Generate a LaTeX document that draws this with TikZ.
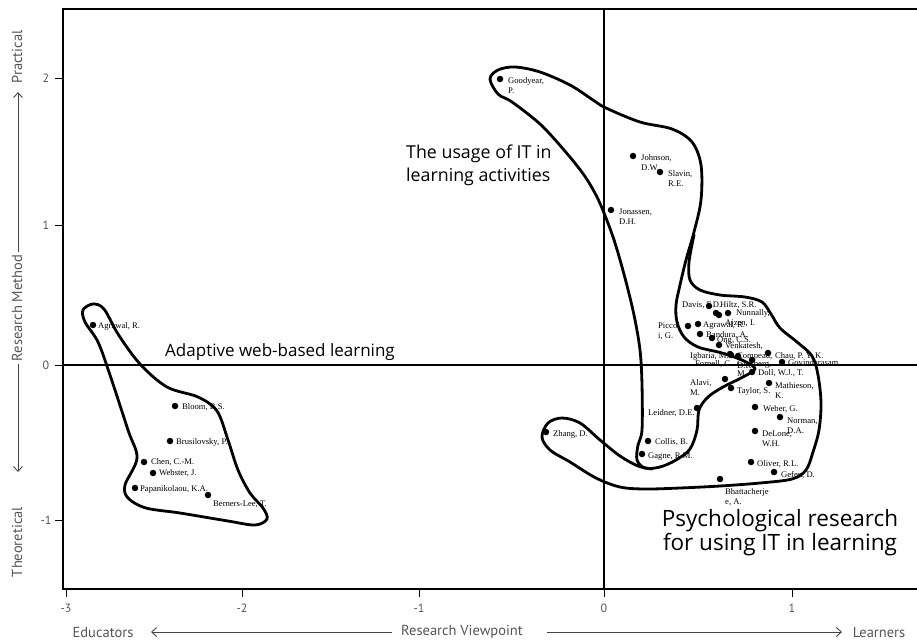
\documentclass[tikz,border=0pt]{standalone}
\usepackage{fontspec}
\setmainfont{Liberation Serif}
\newfontfamily\axfont{PT Sans}
\newfontfamily\titlefont{Open Sans}
\usetikzlibrary{arrows.meta}

\definecolor{axgray}{HTML}{555555}

\tikzset{
  blob/.style={line width=2.8pt, line join=round, line cap=round},
  frame/.style={line width=1.1pt},
  tickmark/.style={line width=1pt},
  dot/.style={circle, fill=black, inner sep=0pt, minimum size=6.5pt},
  lab/.style={font=\fontsize{8.6}{10}\selectfont, inner sep=0pt, anchor=base west},
  ticklab/.style={font=\axfont\fontsize{12}{14}\selectfont, text=axgray, inner sep=0pt},
  axtitle/.style={font=\axfont\fontsize{14.5}{16}\selectfont, text=axgray, inner sep=0pt},
  axarrow/.style={line width=0.9pt, draw=axgray!80!black, -{Straight Barb[length=5pt,width=9pt]}},
  bigtext/.style={inner sep=0pt, anchor=base west},
}

% two stacked lines, baseline of the node = baseline of the first line
\newcommand\twoln[2]{\vtop{\baselineskip=10pt\hbox{#1}\hbox{#2}}}
% an author: dot and its label
\newcommand\au[6]{\node[dot] (#1) at (#2,#3) {}; \node[lab] (#1-t) at (#4,#5) {#6};}

\begin{document}
\begin{tikzpicture}[x=1pt, y=-1pt]
\useasboundingbox (0,0) rectangle (917,641);

% frame and zero lines
\draw[frame] (917,9) -- (63,9) -- (63,589) -- (917,589);
\draw[frame] (604,9) -- (604,589);
\draw[frame] (63,365) -- (917,365);

% vertical ticks
\foreach \v/\y in {2/78, 1/225, 0/365, -1/520}{
  \draw[tickmark] (55,\y) -- (63,\y);
  \node[ticklab] (yt\v) at (46,\y) {\v};
}
% horizontal ticks
\foreach \v/\x in {-3/66, -2/242, -1/419, 0/604, 1/792}{
  \draw[tickmark] (\x,589) -- (\x,597);
  \node[ticklab] (xt\v) at (\x,608) {\v};
}

% vertical axis title
\node[axtitle, rotate=90] (practical) at (17,57) {Practical};
\node[axtitle, rotate=90] (rmethod) at (17,308) {Research Method};
\node[axtitle, rotate=90] (theoretical) at (17,542) {Theoretical};
\coordinate (upS) at (18,252);
\coordinate (upE) at (18,92);
\coordinate (dnS) at (18,364);
\coordinate (dnE) at (18,472);
\draw[axarrow] (upS) -- (upE);
\draw[axarrow] (dnS) -- (dnE);

% horizontal axis title
\node[axtitle] (educators) at (103,632) {Educators};
\node[axtitle] (rview) at (462,632) {Research Viewpoint};
\node[axtitle] (learners) at (879,632) {Learners};
\coordinate (lfS) at (392,632);
\coordinate (lfE) at (151,632);
\coordinate (rtS) at (547,632);
\coordinate (rtE) at (842,632);
\draw[axarrow] (lfS) -- (lfE);
\draw[axarrow] (rtS) -- (rtE);

% region: adaptive web-based learning
\draw[blob] plot[smooth cycle, tension=0.55] coordinates {
  (93,304) (104,309) (118,334) (140,364) (167,387) (198,397) (217,411)
  (228,440) (238,470) (250,493) (263,508) (267,519) (255,525) (228,521)
  (180,513) (146,508) (128,498) (125,485) (137,458) (128,430) (110,375)
  (98,342) (85,322) (83,310)};

% region: usage of IT in learning activities
\draw[blob] plot[smooth cycle, tension=0.55] coordinates {
  (490,79) (498,70) (515,67) (540,72) (570,85) (593,100) (606,108)
  (640,122) (672,129) (692,142) (701,165) (701,200) (694,232) (686,260)
  (680,285) (676,305) (677,322) (684,337) (698,347) (722,353) (744,361)
  (755,369) (741,378) (723,387) (708,397) (699,410) (697,430) (690,449)
  (676,460) (660,467) (645,468) (637,460) (638,445) (642,430) (642,385)
  (640,350) (634,315) (625,278) (615,243) (606,218) (597,197) (584,175)
  (564,150) (540,124) (512,102) (498,94)};

% region: psychological research for using IT in learning
\draw[blob] plot[smooth, tension=0.55] coordinates {
  (694,235) (689,262) (690,280) (700,290) (720,295) (745,297) (762,302)
  (771,314) (780,328) (797,342) (812,356) (818,375) (821,403) (819,430)
  (813,452) (806,470) (792,479) (760,483) (720,486) (680,488) (645,489)
  (620,487) (596,478) (570,462) (550,450) (542,437) (548,423) (562,418)
  (580,423) (600,440) (620,456) (638,466) (652,469)};

% region titles
\node[bigtext, font=\titlefont\fontsize{17}{20}\selectfont] (tadapt) at (165,356) {Adaptive web-based learning};
\node[bigtext, font=\titlefont\fontsize{17.8}{23}\selectfont] (tusage) at (406,158)
  {\vtop{\baselineskip=23pt\hbox{The usage of IT in}\hbox{learning activities}}};
\node[bigtext, anchor=base, font=\titlefont\fontsize{22.5}{24}\selectfont] (tpsych) at (780,526)
  {\vtop{\baselineskip=24pt\halign{\hfil#\hfil\cr Psychological research\cr for using IT in learning\cr}}};

% authors, left group
\au{agrawalA}{93}{325}{98}{328}{Agrawal, R.}
\au{bloom}{175}{406}{182}{409}{Bloom, B.S.}
\au{brusil}{170}{441}{176}{444}{Brusilovsky, P.}
\au{chen}{144}{462}{151}{464}{Chen, C.-M.}
\au{webster}{153}{473}{159}{475}{Webster, J.}
\au{papan}{135}{488}{140}{491}{Papanikolaou, K.A.}
\au{berners}{208}{495}{213}{506}{Berners-Lee, T.}

% authors, upper band
\au{goodyear}{500}{79}{508}{83}{\twoln{Goodyear,}{P.}}
\au{johnson}{633}{156}{641}{160}{\twoln{Johnson,}{D.W.}}
\au{slavin}{660}{172}{668}{176}{\twoln{Slavin,}{R.E.}}
\au{jonassen}{611}{210}{619}{214}{\twoln{Jonassen,}{D.H.}}

% authors, dense cluster
\au{davis}{709}{306}{682}{307}{Davis, F.D.}
\au{hiltz}{716}{313}{720}{307}{Hiltz, S.R.}
\au{nunnally}{728}{313}{736}{315}{Nunnally,}
\au{agrawalB}{698}{324}{703}{327}{Agrawal, R.}
\au{ajzen}{719}{315}{725}{325}{Ajzen, I.}
\au{piccoli}{688}{326}{658}{328}{\twoln{Piccol}{i, G.}}
\au{bandura}{700}{334}{706}{337}{Bandura, A.}
\au{ong}{712}{338}{717}{342}{Ong, C.S.}
\au{venkatesh}{719}{345}{725}{348}{Venkatesh,}
\au{igbaria}{730}{354}{690}{358}{Igbaria, M.}
\au{fornell}{731}{355}{695}{366}{Fornell, C.}
\au{compeau}{738}{356}{737}{358}{\twoln{Compeau,}{D.R.}}
\au{ginzberg}{752}{360}{737}{366}{\twoln{Ginzberg,}{M.}}
\au{chau}{768}{353}{775}{358}{Chau, P. Y. K.}
\au{govind}{782}{362}{788}{365}{Govindarasam}
\au{doll}{752}{372}{758}{375}{Doll, W.J., T.}
\au{alavi}{725}{379}{690}{385}{\twoln{Alavi,}{M.}}
\au{taylor}{731}{388}{737}{393}{Taylor, S.}
\au{mathieson}{769}{383}{775}{388}{\twoln{Mathieson,}{K.}}
\au{leidner}{697}{408}{648}{415}{Leidner, D.E.}
\au{weber}{755}{407}{763}{411}{Weber, G.}
\au{norman}{780}{417}{787}{423}{\twoln{Norman,}{D.A.}}
\au{delone}{755}{431}{762}{436}{\twoln{DeLone,}{W.H.}}
\au{collis}{648}{441}{655}{444}{Collis, B.}
\au{gagne}{642}{454}{648}{458}{Gagne, R.M.}
\au{oliver}{751}{462}{757}{466}{Oliver, R.L.}
\au{gefen}{774}{472}{781}{477}{Gefen, D.}
\au{bhatt}{720}{479}{725}{494}{\twoln{Bhattacherje}{e, A.}}
\au{zhang}{546}{432}{553}{436}{Zhang, D.}

\end{tikzpicture}
\end{document}
